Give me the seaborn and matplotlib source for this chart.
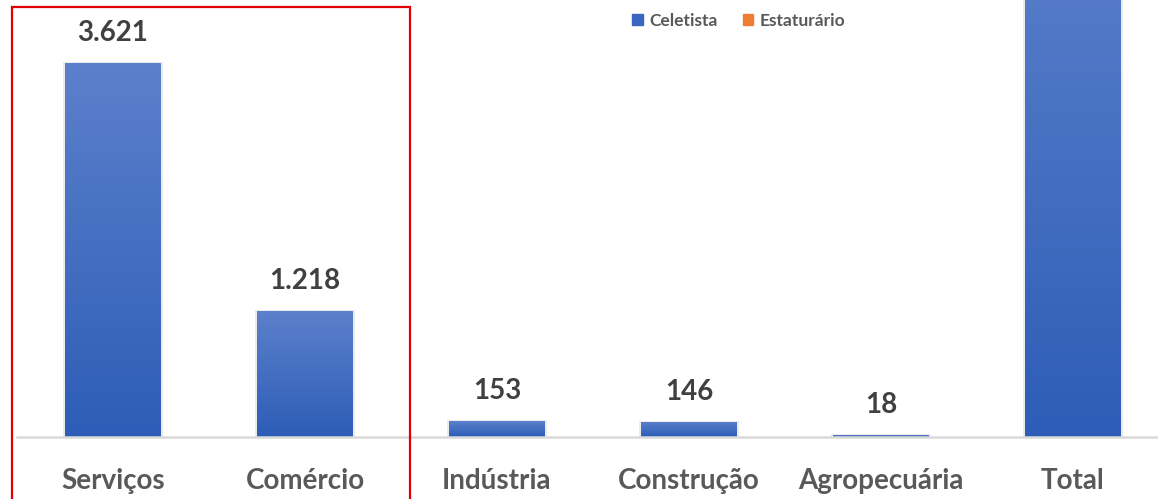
import numpy as np
import pandas as pd
import matplotlib
matplotlib.use("Agg")
import matplotlib.pyplot as plt
import seaborn as sns
from matplotlib.patches import Rectangle
from matplotlib.colors import LinearSegmentedColormap

# data
setores = ['Serviços', 'Comércio', 'Indústria', 'Construção', 'Agropecuária', 'Total']
celetista = [3621, 1218, 153, 146, 18, 5156]
estaturario = [0, 0, 0, 0, 0, 0]
series = ['Celetista', 'Estaturário']

df = pd.DataFrame({
    'setor': setores * 2,
    'valor': celetista + estaturario,
    'tipo': [series[0]] * len(setores) + [series[1]] * len(setores),
})

sns.set_style('white')
plt.rcParams['font.family'] = ['Lato', 'DejaVu Sans']

fig = plt.figure(figsize=(11.58, 4.99), dpi=100)
ax = fig.add_axes([17 / 1158, 62 / 499, 1152 / 1158, 437 / 499])

sns.barplot(data=df, x='setor', y='valor', hue='tipo', dodge=False, width=0.5,
            palette={'Celetista': '#3a66c0', 'Estaturário': '#ED7D31'},
            linewidth=0, ax=ax, legend=False)

ymax = 4231
# gradient fill on the blue bars
cmap = LinearSegmentedColormap.from_list('g', ['#2d5db7', '#5c80cb'])
grad = np.linspace(0, 1, 256).reshape(-1, 1)
ax.set_ylim(0, ymax)
for p in ax.patches[:len(setores)]:
    x0, w, h = p.get_x(), p.get_width(), p.get_height()
    if h <= 0:
        continue
    # soft shadow
    ax.add_patch(Rectangle((x0 - 0.012, 0), w + 0.024, h + 8, color='#000000',
                           alpha=0.08, lw=0, zorder=1.5))
    im = ax.imshow(grad, extent=(x0, x0 + w, 0, h), origin='lower', cmap=cmap,
                   aspect='auto', zorder=2)
    im.set_clip_path(p)
ax.set_xlim(-0.5, len(setores) - 0.5)
ax.set_ylim(0, ymax)

# value labels (the Total label sits above the visible area)
for i, v in enumerate(celetista):
    if v + 200 > ymax:
        continue
    ax.text(i, v + 165, f'{v:,}'.replace(',', '.'), ha='center', va='bottom',
            fontsize=20, fontweight='bold', color='#404040')

ax.set_xlabel('')
ax.set_ylabel('')
ax.set_yticks([])
ax.tick_params(axis='x', length=0, pad=22, labelsize=20, labelcolor='#595959')
for t in ax.get_xticklabels():
    t.set_fontweight('bold')
for s in ['top', 'right', 'left']:
    ax.spines[s].set_visible(False)
ax.spines['bottom'].set_color('#d9d9d9')
ax.spines['bottom'].set_linewidth(1.8)

# legend
handles = [Rectangle((0, 0), 1, 1, color='#3a66c0'), Rectangle((0, 0), 1, 1, color='#ED7D31')]
fig.legend(handles, series, loc='center', bbox_to_anchor=(739 / 1158, 1 - 21 / 499),
           ncol=2, frameon=False, handlelength=0.6, handleheight=0.6,
           handletextpad=0.4, columnspacing=1.4, labelcolor='#595959',
           prop={'weight': 'bold', 'size': 12.5})

# red highlight box
fig.patches.append(Rectangle((12 / 1158, -0.05), 398 / 1158, 0.05 + 1 - 7 / 499,
                             transform=fig.transFigure, fill=False,
                             edgecolor='#e00000', linewidth=1.6))

fig.savefig('out.png', dpi=100)
